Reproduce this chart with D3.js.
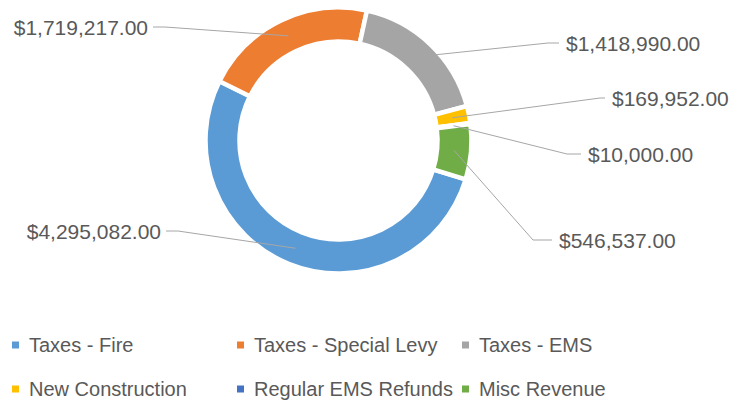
<!DOCTYPE html>
<html>
<head>
  <meta charset="utf-8">
  <script src="https://d3js.org/d3.v7.min.js"></script>
  <style>
    body { margin: 0px; background: #fff; }
    text { font-family: "Liberation Sans", Arial, sans-serif; fill: #595959; }
  </style>
</head>
<body>
  <svg width="736" height="402"></svg>
  <script>
    // data
    const categories = ['Taxes - Fire', 'Taxes - Special Levy', 'Taxes - EMS',
      'New Construction', 'Regular EMS Refunds', 'Misc Revenue'];
    const values = [4295082, 1719217, 1418990, 169952, 10000, 546537];
    const colors = ['#5B9BD5', '#ED7D31', '#A5A5A5', '#FFC000', '#4472C4', '#70AD47'];

    // label placement (x of text edge, y of text middle, anchor, elbow x)
    const labelLayout = [
      { x: 161, y: 231, anchor: 'end',   elbow: 178 },
      { x: 148, y: 27,  anchor: 'end',   elbow: 165 },
      { x: 566, y: 43,  anchor: 'start', elbow: 548 },
      { x: 612, y: 98,  anchor: 'start', elbow: 600 },
      { x: 588, y: 154, anchor: 'start', elbow: 567 },
      { x: 559, y: 240, anchor: 'start', elbow: 533 }
    ];

    const svg = d3.select('svg');
    const cx = 338.5, cy = 140.5;
    const outerR = 133, innerR = 99, midR = 116;

    const fmt = d3.format('$,.2f');

    const pie = d3.pie()
      .sort(null)
      .startAngle(107 * Math.PI / 180)
      .endAngle(467 * Math.PI / 180);

    const arcs = pie(values);

    const arc = d3.arc().innerRadius(innerR).outerRadius(outerR);
    const midArc = d3.arc().innerRadius(midR).outerRadius(midR);

    const g = svg.append('g').attr('transform', `translate(${cx},${cy})`);

    g.selectAll('path.slice').data(arcs)
      .enter().append('path')
      .attr('class', 'slice')
      .attr('d', arc)
      .attr('fill', (d, i) => colors[i])
      .attr('stroke', '#fff')
      .attr('stroke-width', 4.5)
      .attr('stroke-linejoin', 'miter');

    //leader lines
    g.selectAll('polyline').data(arcs)
      .enter().append('polyline')
      .attr('fill', 'none')
      .attr('stroke', '#A6A6A6')
      .attr('stroke-width', 1)
      .attr('points', (d, i) => {
        const c = midArc.centroid(d);
        const L = labelLayout[i];
        const ex = L.anchor === 'end' ? L.x + 5 : L.x - 7;
        return [[c[0], c[1]], [L.elbow - cx, L.y - cy], [ex - cx, L.y - cy]].join(' ');
      });

    //data labels
    svg.selectAll('text.lbl').data(values)
      .enter().append('text')
      .attr('class', 'lbl')
      .attr('x', (d, i) => labelLayout[i].x)
      .attr('y', (d, i) => labelLayout[i].y)
      .attr('dy', '0.36em')
      .attr('text-anchor', (d, i) => labelLayout[i].anchor)
      .style('font-size', '21px')
      .text(d => fmt(d));

    //legend
    const colX = [12, 237, 462];
    const rowY = [345, 389];
    const leg = svg.selectAll('g.leg').data(categories)
      .enter().append('g')
      .attr('class', 'leg')
      .attr('transform', (d, i) => `translate(${colX[i % 3]},${rowY[Math.floor(i / 3)]})`);

    leg.append('rect')
      .attr('x', 0)
      .attr('y', -3.5)
      .attr('width', 7)
      .attr('height', 7)
      .attr('fill', (d, i) => colors[i]);

    leg.append('text')
      .attr('x', 17)
      .attr('y', 0)
      .attr('dy', '0.36em')
      .style('font-size', '20px')
      .text(d => d);
  </script>
</body>
</html>
